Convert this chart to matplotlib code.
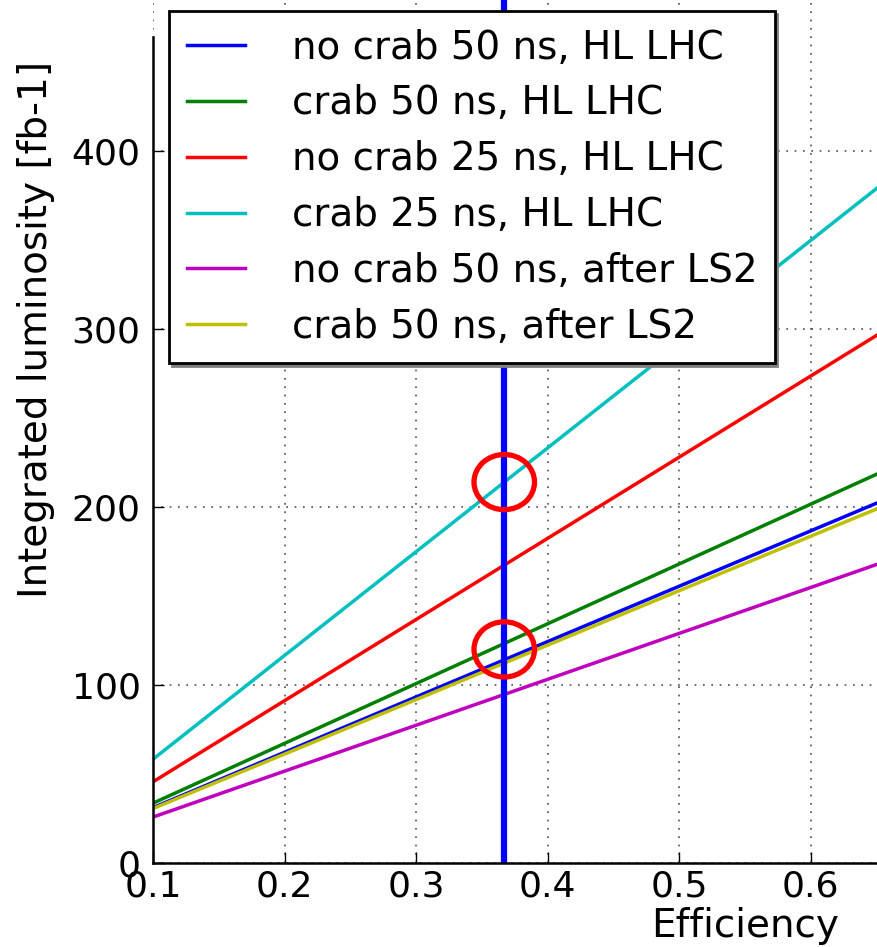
import numpy as np
import matplotlib.pyplot as plt
from matplotlib.patches import Ellipse

# efficiency range and integrated luminosity [fb-1] at both ends
efficiency = [0.1, 1.0]
lumi_nocrab50_hl = [31.1, 311]
lumi_crab50_hl = [33.6, 336]
lumi_nocrab25_hl = [45.6, 456]
lumi_crab25_hl = [58.3, 583]
lumi_nocrab50_ls2 = [25.8, 258]
lumi_crab50_ls2 = [30.6, 306]

labels = ['no crab 50 ns, HL LHC', 'crab 50 ns, HL LHC', 'no crab 25 ns, HL LHC',
          'crab 25 ns, HL LHC', 'no crab 50 ns, after LS2', 'crab 50 ns, after LS2']
colors = ['b', 'g', 'r', 'c', 'm', 'y']

# chosen efficiency and the circled luminosities
chosen_eff = 0.367
circled_lumi = [214, 120]

series = [lumi_nocrab50_hl, lumi_crab50_hl, lumi_nocrab25_hl,
          lumi_crab25_hl, lumi_nocrab50_ls2, lumi_crab50_ls2]

fig = plt.figure(figsize=(8.77, 9.47), dpi=100)
# axes run past the right and top edge of the picture (cropped view)
ax = fig.add_axes([153 / 877, 84 / 947, 1184 / 877, 1068 / 947])

for lumi, lab, col in zip(series, labels, colors):
    ax.plot(efficiency, lumi, color=col, lw=2.5, label=lab)

ax.axvline(chosen_eff, color='b', lw=4.5)
for yv in circled_lumi:
    ax.add_patch(Ellipse((chosen_eff, yv), width=0.046, height=31, fill=False,
                         edgecolor='r', lw=3.8, zorder=5))

ax.set_xlim(0.1, 1.0)
ax.set_ylim(0, 600)
ax.set_xticks(np.arange(0.1, 1.01, 0.1))
ax.set_yticks(np.arange(0, 601, 100))
ax.grid(True, color='0.3', linestyle=(0, (1, 4)), lw=1.2)
ax.tick_params(direction='in', length=8, width=1, labelsize=26)
ax.tick_params(axis='y', pad=9)
ax.tick_params(axis='x', pad=5)
ax.spines['left'].set_bounds(0, 464)
for s in ax.spines.values():
    s.set_linewidth(1.8)

ax.set_xlabel('Efficiency', fontsize=28, labelpad=2)
ax.set_ylabel('Integrated luminosity [fb-1]', fontsize=28, labelpad=12)

leg = ax.legend(loc='upper left', bbox_to_anchor=(169 / 877, 1 - 11 / 947),
                bbox_transform=fig.transFigure, borderaxespad=0, fontsize=28,
                handlelength=1.5, handletextpad=1.2, borderpad=0.45,
                labelspacing=0.46, fancybox=False, framealpha=1,
                shadow={'color': '0.5', 'alpha': 1})
leg.get_frame().set_edgecolor('k')
leg.get_frame().set_linewidth(2)

plt.savefig('out.png', dpi=100)
